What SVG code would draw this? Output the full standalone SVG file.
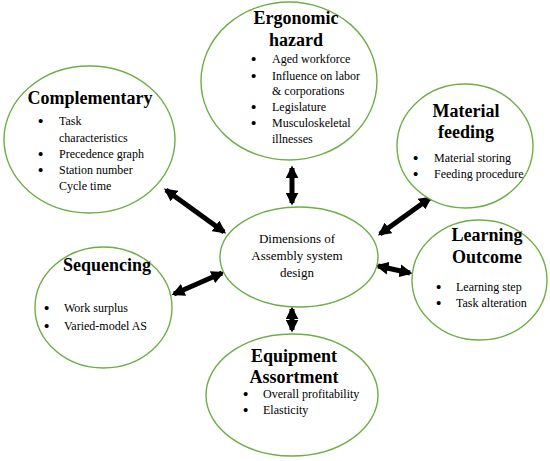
<svg xmlns="http://www.w3.org/2000/svg" width="550" height="461" viewBox="0 0 550 461">
<defs>
<style>
.node ellipse{fill:#fff;stroke:#70ad47;stroke-width:1.4}
text{font-family:"Liberation Serif","Times New Roman",serif;fill:#000}
.t{font-size:18px;font-weight:bold;text-anchor:middle}
.b{font-size:12px}
.d{font-size:15px;font-weight:bold}
.c{font-size:13px;text-anchor:middle}
.conn path{stroke:#000;stroke-width:5;fill:none;marker-start:url(#ah);marker-end:url(#ah)}
</style>
<marker id="ah" viewBox="0 0 10 10" refX="8" refY="5" markerWidth="2.6" markerHeight="2.6" orient="auto-start-reverse" markerUnits="strokeWidth">
<path d="M0,0 L10,5 L0,10 z" fill="#000"/>
</marker>
</defs>
<rect width="550" height="461" fill="#fff"/>
<g class="conn">
<path d="M292,168 L292,203"/>
<path d="M166,190 L224,232"/>
<path d="M430,198 L380,234"/>
<path d="M378,266 L410,273"/>
<path d="M174,294 L222,273"/>
<path d="M292,309 L292,330"/>
</g>
<g id="ergonomic" class="node">
<ellipse cx="289" cy="81" rx="88" ry="79"/>
<text class="t" x="296" y="24">Ergonomic</text>
<text class="t" x="296" y="46">hazard</text>
<text class="d" x="251" y="64">•</text><text class="b" x="272" y="63">Aged workforce</text>
<text class="d" x="251" y="81">•</text><text class="b" x="272" y="80">Influence on labor</text>
<text class="b" x="272" y="95">&amp; corporations</text>
<text class="d" x="251" y="112">•</text><text class="b" x="272" y="111">Legislature</text>
<text class="d" x="251" y="128">•</text><text class="b" x="272" y="127">Musculoskeletal</text>
<text class="b" x="272" y="143">illnesses</text>
</g>
<g id="complementary" class="node">
<ellipse cx="89.5" cy="139.5" rx="85.5" ry="73.5"/>
<text class="t" x="90" y="104">Complementary</text>
<text class="d" x="38" y="126">•</text><text class="b" x="59" y="125">Task</text>
<text class="b" x="59" y="142">characteristics</text>
<text class="d" x="38" y="159">•</text><text class="b" x="59" y="158">Precedence graph</text>
<text class="d" x="38" y="175">•</text><text class="b" x="59" y="174">Station number</text>
<text class="b" x="59" y="190">Cycle time</text>
</g>
<g id="material" class="node">
<ellipse cx="465" cy="146" rx="68" ry="62"/>
<text class="t" x="466" y="117">Material</text>
<text class="t" x="466" y="138">feeding</text>
<text class="d" x="413" y="163">•</text><text class="b" x="434" y="162">Material storing</text>
<text class="d" x="413" y="179">•</text><text class="b" x="434" y="178">Feeding procedure</text>
</g>
<g id="learning" class="node">
<ellipse cx="479.5" cy="280" rx="67.5" ry="60"/>
<text class="t" x="487" y="241">Learning</text>
<text class="t" x="487" y="263">Outcome</text>
<text class="d" x="436" y="292">•</text><text class="b" x="456" y="291">Learning step</text>
<text class="d" x="436" y="308">•</text><text class="b" x="456" y="307">Task alteration</text>
</g>
<g id="sequencing" class="node">
<ellipse cx="103.5" cy="307.5" rx="68.5" ry="60.5"/>
<text class="t" x="107" y="271">Sequencing</text>
<text class="d" x="44" y="313">•</text><text class="b" x="64" y="312">Work surplus</text>
<text class="d" x="44" y="331">•</text><text class="b" x="64" y="330">Varied-model AS</text>
</g>
<g id="equipment" class="node">
<ellipse cx="292" cy="395" rx="86" ry="61"/>
<text class="t" x="294" y="362">Equipment</text>
<text class="t" x="294" y="383">Assortment</text>
<text class="d" x="243" y="399">•</text><text class="b" x="263" y="398">Overall profitability</text>
<text class="d" x="243" y="415">•</text><text class="b" x="263" y="414">Elasticity</text>
</g>
<g id="center" class="node">
<ellipse cx="299" cy="257" rx="79" ry="50"/>
<text class="c" x="297" y="243">Dimensions of</text>
<text class="c" x="297" y="260">Assembly system</text>
<text class="c" x="297" y="277">design</text>
</g>
</svg>
